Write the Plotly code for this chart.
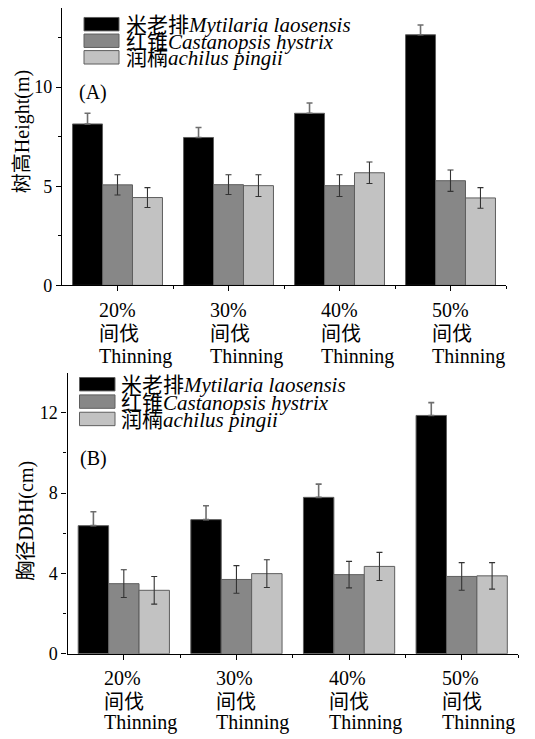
import plotly.graph_objects as go

# Thinning intensity categories
categories = ["20%", "30%", "40%", "50%"]
cat_cn = "间伐"
cat_en = "Thinning"

# Species (legend labels: Chinese name + italic Latin name)
species_cn = ["米老排", "红锥", "润楠"]
species_lat = ["Mytilaria laosensis", "Castanopsis hystrix", "achilus pingii"]
bar_colors = ["#000000", "#878787", "#c2c2c2"]

# (A) Tree height (m): means and standard errors
height_mean = [
    [8.14, 7.46, 8.68, 12.64],
    [5.07, 5.08, 5.03, 5.28],
    [4.43, 5.03, 5.68, 4.41],
]
height_err = [
    [0.54, 0.50, 0.52, 0.49],
    [0.51, 0.50, 0.55, 0.54],
    [0.50, 0.55, 0.54, 0.52],
]

# (B) DBH (cm): means and standard errors
dbh_mean = [
    [6.38, 6.68, 7.79, 11.87],
    [3.49, 3.70, 3.94, 3.85],
    [3.16, 3.99, 4.35, 3.88],
]
dbh_err = [
    [0.69, 0.69, 0.66, 0.64],
    [0.69, 0.69, 0.66, 0.69],
    [0.69, 0.69, 0.70, 0.66],
]

W, H = 535, 739
SERIF = "Liberation Serif, Times New Roman, Noto Sans CJK SC, serif"


def px_x(v):
    return v / W


def px_y(v):
    return 1 - v / H


fig = go.Figure()
xpos = list(range(len(categories)))

for panel, (means, errs) in enumerate([(height_mean, height_err), (dbh_mean, dbh_err)]):
    xa = "x" if panel == 0 else "x2"
    ya = "y" if panel == 0 else "y2"
    for k in range(3):
        if k == 0:
            # only the upper whisker shows above the black bars
            err = dict(type="data", array=errs[k], symmetric=False,
                       arrayminus=[0] * len(errs[k]), color="#6e6e6e",
                       thickness=1.6, width=3)
        else:
            err = dict(type="data", array=errs[k], color="#333333",
                       thickness=1.1, width=3)
        fig.add_trace(go.Bar(
            x=xpos, y=means[k], xaxis=xa, yaxis=ya,
            marker=dict(color=bar_colors[k], line=dict(color="#5e5e5e", width=1)),
            error_y=err, showlegend=False,
            name=species_cn[k] + species_lat[k],
        ))

axis_common = dict(
    showline=True, linecolor="#000000", linewidth=1.2, mirror=False,
    ticks="outside", ticklen=5, tickwidth=1.1, tickcolor="#000000",
    showgrid=False, zeroline=False,
    tickfont=dict(family=SERIF, size=18, color="#000000"),
)

x_minor = dict(tickvals=[0.5, 1.5, 2.5, 3.5], ticks="outside", ticklen=3,
               tickwidth=1.1, tickcolor="#000000")

fig.update_layout(
    width=W, height=H,
    margin=dict(l=0, r=0, t=0, b=0),
    paper_bgcolor="white", plot_bgcolor="white",
    barmode="group", bargap=0.19, bargroupgap=0,
    xaxis=dict(axis_common, domain=[px_x(62), px_x(506)], range=[-0.5, 3.5],
               tickvals=xpos, showticklabels=False, anchor="y", minor=x_minor),
    yaxis=dict(axis_common, domain=[px_y(289.3), px_y(7.9)], range=[0, 14],
               tickvals=[0, 5, 10], anchor="x",
               minor=dict(tickvals=[2.5, 7.5, 12.5], ticks="outside", ticklen=3,
                          tickwidth=1, tickcolor="#000000")),
    xaxis2=dict(axis_common, domain=[px_x(67.5), px_x(518)], range=[-0.5, 3.5],
                tickvals=xpos, showticklabels=False, anchor="y2", minor=x_minor),
    yaxis2=dict(axis_common, domain=[px_y(662.7), px_y(377.8)], range=[0, 14],
                tickvals=[0, 4, 8, 12], anchor="x2",
                minor=dict(tickvals=[2, 6, 10], ticks="outside", ticklen=3,
                           tickwidth=1, tickcolor="#000000")),
)

annotations = []
shapes = []

# Axis titles
annotations.append(dict(text="树高Height(m)", x=px_x(22), y=px_y(134), xref="paper", yref="paper",
                        textangle=-90, showarrow=False, xanchor="center", yanchor="middle",
                        font=dict(family=SERIF, size=20, color="#000000")))
annotations.append(dict(text="胸径DBH(cm)", x=px_x(27), y=px_y(528), xref="paper", yref="paper",
                        textangle=-90, showarrow=False, xanchor="center", yanchor="middle",
                        font=dict(family=SERIF, size=20, color="#000000")))

# Panel tags
for tag, tx, ty in [("(A)", 77, 94), ("(B)", 78, 465)]:
    annotations.append(dict(text=tag, x=px_x(tx), y=px_y(ty), xref="paper", yref="paper",
                            showarrow=False, xanchor="left", yanchor="middle",
                            font=dict(family=SERIF, size=20, color="#000000")))

# Category labels (three left-aligned lines under each group)
for xa, shift, line_y in [("x", -21, [314, 338.5, 361]), ("x2", -22, [687.5, 711.5, 732])]:
    for i, c in enumerate(categories):
        for txt, ly in zip([c, cat_cn, cat_en], line_y):
            annotations.append(dict(text=txt, x=i, xref=xa, xshift=shift, y=px_y(ly), yref="paper",
                                    showarrow=False, xanchor="left", yanchor="middle",
                                    font=dict(family=SERIF, size=20, color="#000000")))

# Legends drawn as swatches + text inside each panel
for lx0, lx1, tx, row0, pitch in [(84, 119, 124, 24.5, 16.8), (79.5, 115, 118.5, 389.5, 17.6)]:
    for k in range(3):
        cy = row0 + k * pitch
        shapes.append(dict(type="rect", xref="paper", yref="paper",
                           x0=px_x(lx0), x1=px_x(lx1), y0=px_y(cy + 6.8), y1=px_y(cy - 6.8),
                           fillcolor=bar_colors[k], line=dict(color="#5e5e5e", width=1)))
        annotations.append(dict(text=species_cn[k] + "<i>" + species_lat[k] + "</i>",
                                x=px_x(tx), y=px_y(cy + 1), xref="paper", yref="paper",
                                showarrow=False, xanchor="left", yanchor="middle",
                                font=dict(family=SERIF, size=21, color="#000000")))

fig.update_layout(annotations=annotations, shapes=shapes)

fig.write_html("out.html")
